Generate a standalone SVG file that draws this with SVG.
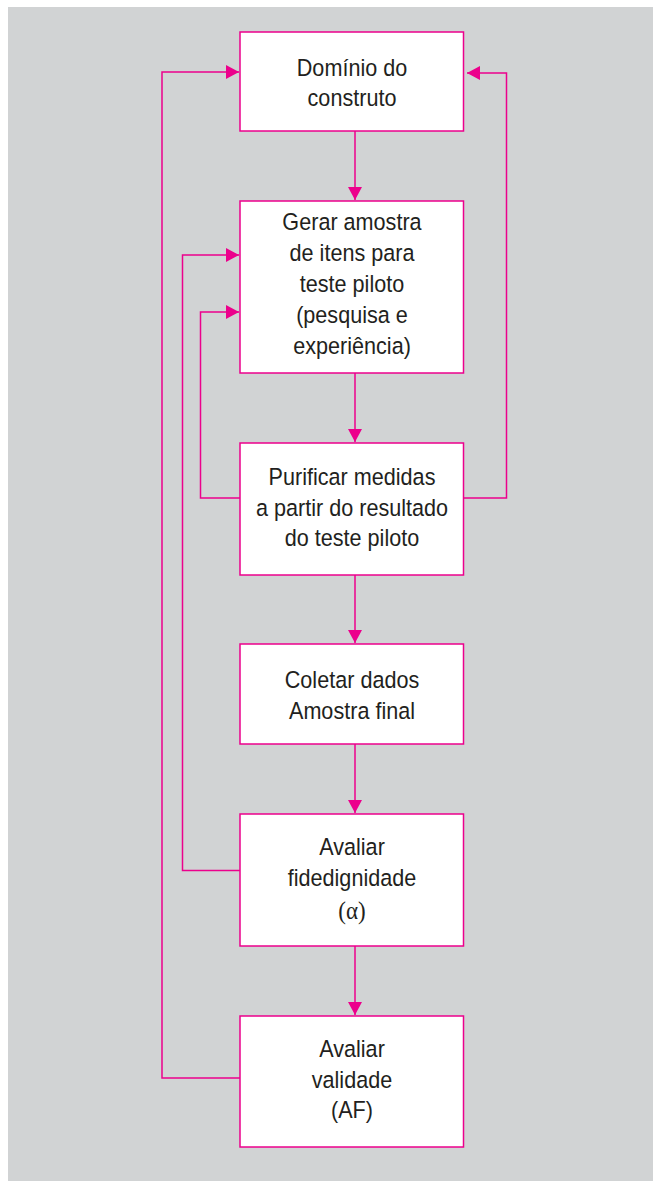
<svg xmlns="http://www.w3.org/2000/svg" width="653" height="1181" viewBox="0 0 653 1181">
<style>
.bg{fill:#d1d3d4}
.box{fill:#fff;stroke:#ec008c;stroke-width:1.5}
.t{font-family:"Liberation Sans",Arial,sans-serif;font-size:23.5px;fill:#231f20;text-anchor:middle}
.s{font-family:"Liberation Serif","Times New Roman",serif;font-size:25px}
.c{fill:none;stroke:#ec008c;stroke-width:1.5}
</style>
<defs>
<marker id="ah" markerUnits="userSpaceOnUse" markerWidth="14" markerHeight="15" refX="13" refY="7" orient="auto">
<path d="M0,0 L13,7 L0,14 z" fill="#ec008c"/>
</marker>
</defs>
<rect x="0" y="0" width="653" height="1181" fill="#fff"/>
<rect class="bg" x="8" y="7" width="645" height="1174"/>
<g id="connectors">
<path class="c" d="M355,131 V200" marker-end="url(#ah)"/>
<path class="c" d="M355,373 V442" marker-end="url(#ah)"/>
<path class="c" d="M355,575 V643" marker-end="url(#ah)"/>
<path class="c" d="M355,744 V813" marker-end="url(#ah)"/>
<path class="c" d="M355,946 V1015" marker-end="url(#ah)"/>
<path class="c" d="M240,1078 H162 V72 H239" marker-end="url(#ah)"/>
<path class="c" d="M240,870.5 H182.5 V255 H239" marker-end="url(#ah)"/>
<path class="c" d="M240,498 H200.5 V312 H239" marker-end="url(#ah)"/>
<path class="c" d="M463.5,498 H506.5 V73 H467" marker-end="url(#ah)"/>
</g>
<g id="n1">
<rect class="box" x="240" y="32" width="223.5" height="99"/>
<g transform="matrix(0.92,0,0,1,352,0)">
<text class="t" x="0" y="76">Domínio do</text>
<text class="t" x="0" y="106">construto</text>
</g>
</g>
<g id="n2">
<rect class="box" x="240" y="201" width="223.5" height="172"/>
<g transform="matrix(0.92,0,0,1,352,0)">
<text class="t" x="0" y="230">Gerar amostra</text>
<text class="t" x="0" y="261.5">de itens para</text>
<text class="t" x="0" y="292">teste piloto</text>
<text class="t" x="0" y="323">(pesquisa e</text>
<text class="t" x="0" y="354">experiência)</text>
</g>
</g>
<g id="n3">
<rect class="box" x="240" y="443" width="223.5" height="132"/>
<g transform="matrix(0.92,0,0,1,352,0)">
<text class="t" x="0" y="485">Purificar medidas</text>
<text class="t" x="0" y="516">a partir do resultado</text>
<text class="t" x="0" y="546">do teste piloto</text>
</g>
</g>
<g id="n4">
<rect class="box" x="240" y="644" width="223.5" height="100"/>
<g transform="matrix(0.92,0,0,1,352,0)">
<text class="t" x="0" y="688">Coletar dados</text>
<text class="t" x="0" y="719">Amostra final</text>
</g>
</g>
<g id="n5">
<rect class="box" x="240" y="814" width="223.5" height="132"/>
<g transform="matrix(0.92,0,0,1,352,0)">
<text class="t" x="0" y="855">Avaliar</text>
<text class="t" x="0" y="886">fidedignidade</text>
<text class="t s" x="0" y="919">(α)</text>
</g>
</g>
<g id="n6">
<rect class="box" x="240" y="1016" width="223.5" height="131"/>
<g transform="matrix(0.92,0,0,1,352,0)">
<text class="t" x="0" y="1057">Avaliar</text>
<text class="t" x="0" y="1088">validade</text>
<text class="t" x="0" y="1118">(AF)</text>
</g>
</g>
</svg>
